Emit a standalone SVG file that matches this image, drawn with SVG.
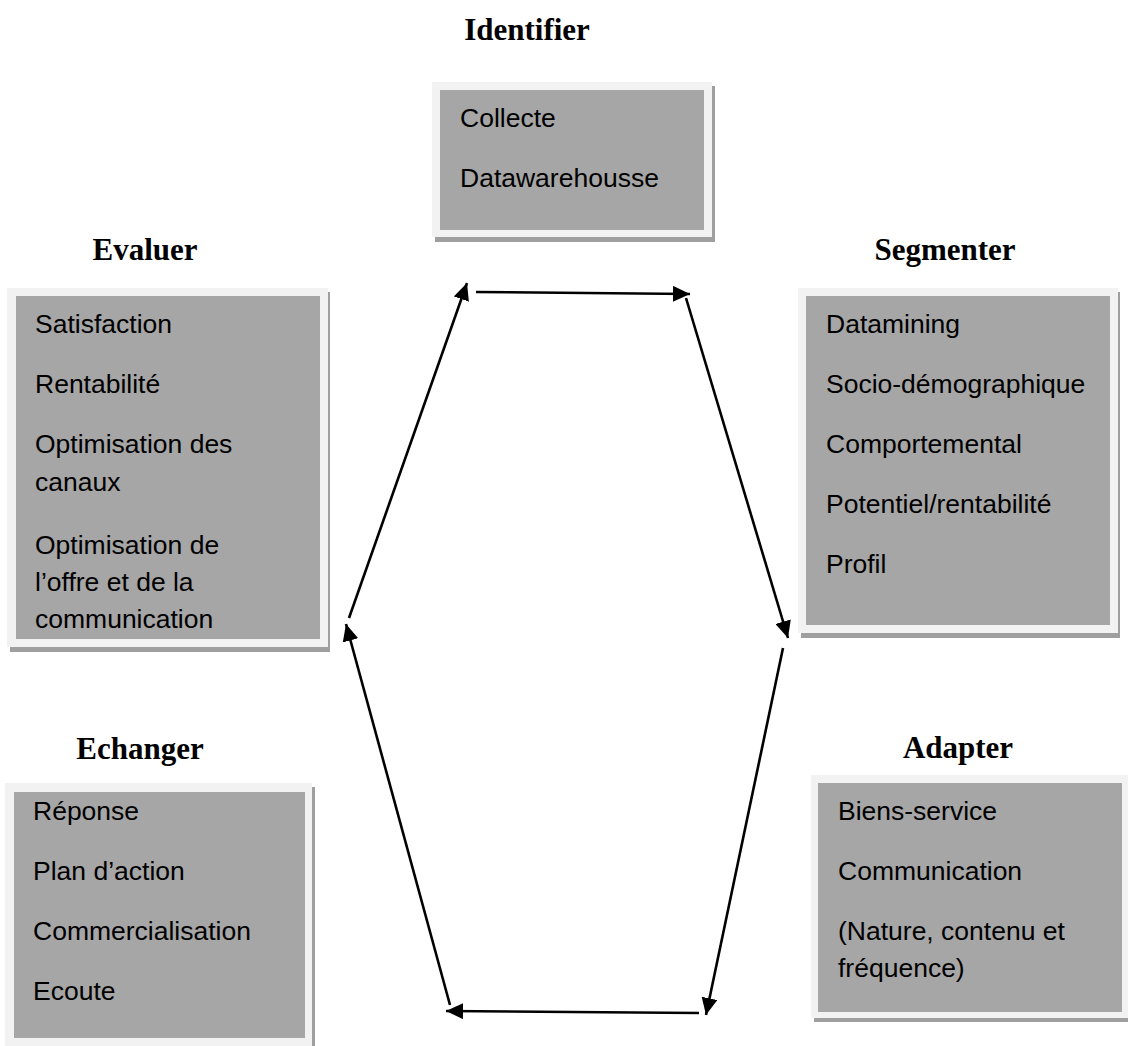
<svg xmlns="http://www.w3.org/2000/svg" width="1128" height="1046" viewBox="0 0 1128 1046">
<style>
.bg{fill:#ffffff}
.shadow{fill:#9f9f9f}
.frame{fill:#f2f2f2}
.inner{fill:#a6a6a6}
.head{font-family:"Liberation Serif","Times New Roman",serif;font-weight:bold;font-size:31px;fill:#000;text-anchor:middle}
.item{font-family:"Liberation Sans",Arial,sans-serif;font-size:26.5px;fill:#000}
.conn{stroke:#000;stroke-width:2.6;fill:none}
</style>
<defs>
<marker id="ah" markerUnits="userSpaceOnUse" markerWidth="18" markerHeight="16" refX="17" refY="8" orient="auto">
<path d="M0,0 L17,8 L0,16 Z" fill="#000"/>
</marker>
</defs>
<rect class="bg" x="0" y="0" width="1128" height="1046"/>

<g id="identifier">
<text class="head" x="527" y="40">Identifier</text>
<rect class="shadow" x="435" y="86" width="280" height="156"/>
<rect class="frame" x="432" y="82" width="280" height="155"/>
<rect class="inner" x="440" y="90" width="264" height="140"/>
<text class="item" x="460" y="127">Collecte</text>
<text class="item" x="460" y="187">Datawarehousse</text>
</g>

<g id="evaluer">
<text class="head" x="145" y="260">Evaluer</text>
<rect class="shadow" x="10" y="292" width="320" height="360"/>
<rect class="frame" x="7" y="288" width="321" height="359"/>
<rect class="inner" x="16" y="296" width="304" height="343"/>
<text class="item" x="35" y="333">Satisfaction</text>
<text class="item" x="35" y="393">Rentabilité</text>
<text class="item" x="35" y="453">Optimisation des</text>
<text class="item" x="35" y="491">canaux</text>
<text class="item" x="35" y="554">Optimisation de</text>
<text class="item" x="35" y="591">l’offre et de la</text>
<text class="item" x="35" y="628">communication</text>
</g>

<g id="segmenter">
<text class="head" x="945" y="260">Segmenter</text>
<rect class="shadow" x="801" y="292" width="319" height="346"/>
<rect class="frame" x="798" y="288" width="320" height="345"/>
<rect class="inner" x="806" y="296" width="304" height="329"/>
<text class="item" x="826" y="333">Datamining</text>
<text class="item" x="826" y="393">Socio-démographique</text>
<text class="item" x="826" y="453">Comportemental</text>
<text class="item" x="826" y="513">Potentiel/rentabilité</text>
<text class="item" x="826" y="573">Profil</text>
</g>

<g id="adapter">
<text class="head" x="958" y="758">Adapter</text>
<rect class="shadow" x="814" y="779" width="314" height="243"/>
<rect class="frame" x="811" y="775" width="317" height="243"/>
<rect class="inner" x="818" y="783" width="304" height="229"/>
<text class="item" x="838" y="820">Biens-service</text>
<text class="item" x="838" y="880">Communication</text>
<text class="item" x="838" y="940">(Nature, contenu et</text>
<text class="item" x="838" y="977">fréquence)</text>
</g>

<g id="echanger">
<text class="head" x="140" y="759">Echanger</text>
<rect class="shadow" x="8" y="787" width="307" height="259"/>
<rect class="frame" x="5" y="783" width="307" height="263"/>
<rect class="inner" x="14" y="792" width="291" height="246"/>
<text class="item" x="33" y="820">Réponse</text>
<text class="item" x="33" y="880">Plan d’action</text>
<text class="item" x="33" y="940">Commercialisation</text>
<text class="item" x="33" y="1000">Ecoute</text>
</g>

<g id="connectors">
<line class="conn" x1="476" y1="292" x2="690" y2="294" marker-end="url(#ah)"/>
<line class="conn" x1="686" y1="298" x2="788" y2="638" marker-end="url(#ah)"/>
<line class="conn" x1="783" y1="648" x2="706" y2="1015" marker-end="url(#ah)"/>
<line class="conn" x1="699" y1="1013" x2="446" y2="1011" marker-end="url(#ah)"/>
<line class="conn" x1="450" y1="1005" x2="346" y2="624" marker-end="url(#ah)"/>
<line class="conn" x1="349" y1="618" x2="467" y2="283" marker-end="url(#ah)"/>
</g>
</svg>
